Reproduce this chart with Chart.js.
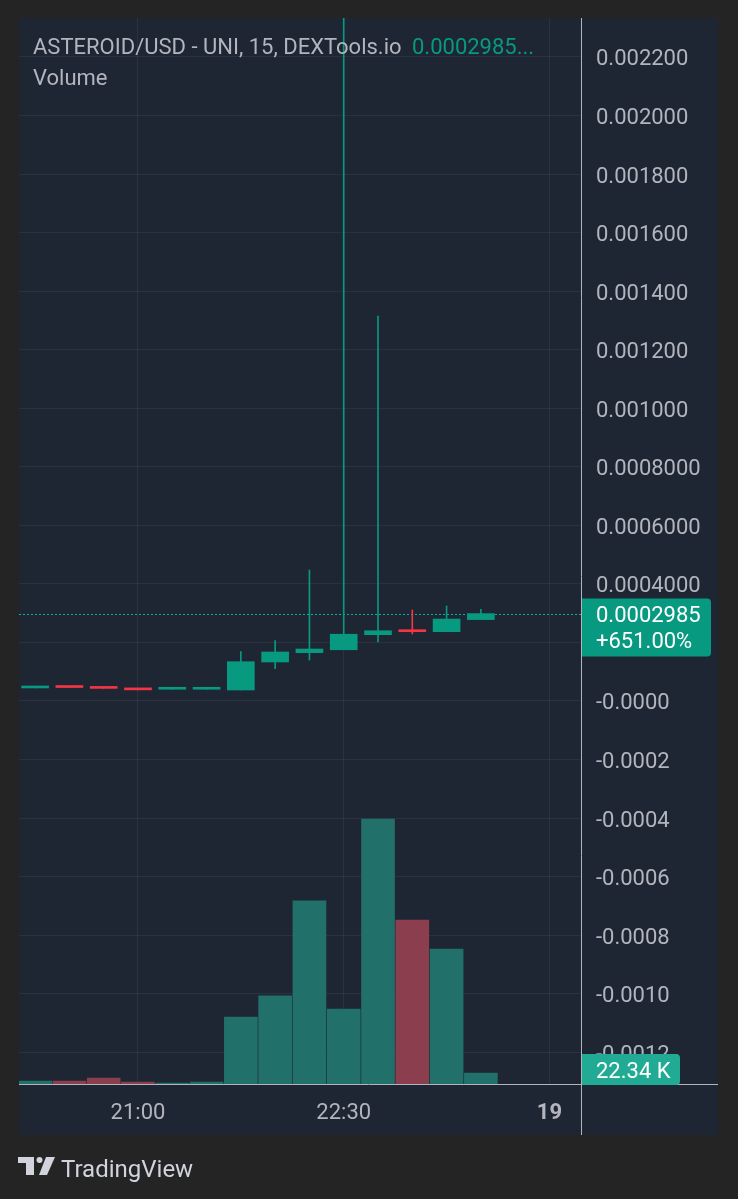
<!DOCTYPE html>
<html>
<head>
<meta charset="utf-8">
<script src="https://cdn.jsdelivr.net/npm/chart.js@4.4.1/dist/chart.umd.min.js"></script>
<style>
  html, body { margin: 0; padding: 0; background: #242424; }
  #wrap { width: 738px; height: 1199px; position: relative; }
</style>
</head>
<body>
<div id="wrap"><canvas id="chart"></canvas></div>
<script>
// 15 minute candles, ASTEROID/USD
var times   = ['20:15','20:30','20:45','21:00','21:15','21:30','21:45','22:00','22:15','22:30','22:45','23:00','23:15','23:30'];
var opens   = [0.0000445, 0.0000475, 0.0000445, 0.0000400, 0.0000400, 0.0000400, 0.0000376, 0.0001332, 0.0001650, 0.0001750, 0.0002265, 0.0002436, 0.0002367, 0.0002780];
var closes  = [0.0000460, 0.0000460, 0.0000430, 0.0000380, 0.0000415, 0.0000415, 0.0001343, 0.0001674, 0.0001776, 0.0002280, 0.0002400, 0.0002367, 0.0002800, 0.0002985];
var highs   = [0.0000460, 0.0000475, 0.0000445, 0.0000400, 0.0000415, 0.0000415, 0.0001684, 0.0002060, 0.0004475, 0.0025000, 0.0013150, 0.0003110, 0.0003245, 0.0003130];
var lows    = [0.0000445, 0.0000460, 0.0000430, 0.0000380, 0.0000400, 0.0000400, 0.0000376, 0.0001100, 0.0001400, 0.0001750, 0.0002015, 0.0002290, 0.0002367, 0.0002780];
var volumes = [6000, 6000, 12000, 4000, 2000, 4000, 136000, 179000, 372000, 152000, 538000, 333000, 274000, 22340];

// axis ticks
var priceTicks = [-0.0012, -0.0010, -0.0008, -0.0006, -0.0004, -0.0002, 0, 0.0002, 0.0004, 0.0006, 0.0008, 0.0010, 0.0012, 0.0014, 0.0016, 0.0018, 0.0020, 0.0022];
var priceTickText = ['-0.0012','-0.0010','-0.0008','-0.0006','-0.0004','-0.0002','-0.0000','','0.0004000','0.0006000','0.0008000','0.001000','0.001200','0.001400','0.001600','0.001800','0.002000','0.002200'];
var timeTickIdx = [3, 9, 15];
var timeTickText = ['21:00', '22:30', '19'];

var lastPrice = 0.0002985;
var lastChange = '+651.00%';
var lastVolume = '22.34 K';

var UP = '#089981', DOWN = '#f23645';
var VOL_UP = '#22706a', VOL_DOWN = '#8b3e4e';
var TEXT = '#b2b5be';
var GRID = 'rgba(255,255,255,0.06)';

Chart.defaults.font.family = 'Roboto';

var isUp = opens.map(function (o, i) { return closes[i] >= o; });

var chrome = {
  id: 'chrome',
  beforeDraw: function (chart) {
    var ctx = chart.ctx;
    ctx.save();
    ctx.fillStyle = '#1e2633';
    ctx.fillRect(19, 18, 699, 1117);
    ctx.restore();
  },
  beforeDatasetsDraw: function (chart) {
    var ctx = chart.ctx, a = chart.chartArea;
    var y = Math.round(chart.scales.y.getPixelForValue(lastPrice)) + 0.5;
    ctx.save();
    ctx.strokeStyle = '#0bb096';
    ctx.lineWidth = 1;
    ctx.setLineDash([2, 2]);
    ctx.beginPath();
    ctx.moveTo(a.left, y);
    ctx.lineTo(a.right, y);
    ctx.stroke();
    ctx.restore();
  },
  afterDraw: function (chart) {
    var ctx = chart.ctx, a = chart.chartArea;
    ctx.save();
    // separators
    ctx.strokeStyle = '#b2b5be';
    ctx.lineWidth = 1;
    ctx.beginPath();
    ctx.moveTo(a.right + 0.5, 18);
    ctx.lineTo(a.right + 0.5, 1135);
    ctx.moveTo(19, a.bottom + 0.5);
    ctx.lineTo(718, a.bottom + 0.5);
    ctx.stroke();

    // last price label
    var py = chart.scales.y.getPixelForValue(lastPrice);
    ctx.fillStyle = UP;
    ctx.beginPath();
    ctx.roundRect(a.right + 1, py - 15, 129, 58, [0, 4, 4, 0]);
    ctx.fill();
    ctx.fillStyle = '#ffffff';
    ctx.font = '22px Roboto';
    ctx.textBaseline = 'middle';
    ctx.textAlign = 'left';
    ctx.fillText(lastPrice.toFixed(7), 596, py + 3);
    ctx.fillText(lastChange, 596, py + 29);

    // last volume label
    var vy = chart.scales.yVol.getPixelForValue(volumes[volumes.length - 1]);
    ctx.fillStyle = '#22ab94';
    ctx.beginPath();
    ctx.roundRect(a.right + 1, vy - 19, 98, 31, [0, 4, 4, 0]);
    ctx.fill();
    ctx.fillStyle = '#ffffff';
    ctx.fillText(lastVolume, 596, vy - 1);

    // legend text
    ctx.font = '22px Roboto';
    ctx.textBaseline = 'alphabetic';
    ctx.fillStyle = TEXT;
    var title = 'ASTEROID/USD - UNI, 15, DEXTools.io';
    ctx.fillText(title, 33, 54);
    ctx.fillStyle = UP;
    ctx.fillText(lastPrice.toFixed(7) + '...', 412, 54);
    ctx.fillStyle = TEXT;
    ctx.fillText('Volume', 33, 85);

    // TradingView logo
    ctx.fillStyle = '#d1d4dc';
    ctx.fillRect(18, 1157, 16, 6);
    ctx.fillRect(26, 1157, 8, 18);
    ctx.beginPath();
    ctx.arc(39.5, 1160, 3, 0, Math.PI * 2);
    ctx.fill();
    ctx.beginPath();
    ctx.moveTo(46, 1157);
    ctx.lineTo(55, 1157);
    ctx.lineTo(47, 1175);
    ctx.lineTo(39, 1175);
    ctx.closePath();
    ctx.fill();
    ctx.font = '24px Roboto';
    ctx.fillText('TradingView', 61, 1177);
    ctx.restore();
  }
};

new Chart(document.getElementById('chart'), {
  type: 'bar',
  data: {
    datasets: [
      {
        label: 'Candle body',
        data: opens.map(function (o, i) { return { x: i, y: [o, closes[i]] }; }),
        backgroundColor: isUp.map(function (u) { return u ? UP : DOWN; }),
        barThickness: 27,
        minBarLength: 2,
        grouped: false,
        order: 0
      },
      {
        label: 'Wick',
        data: lows.map(function (l, i) { return { x: i, y: [l, highs[i]] }; }),
        backgroundColor: isUp.map(function (u) { return u ? UP : DOWN; }),
        barThickness: 1,
        grouped: false,
        order: 1
      },
      {
        label: 'Volume',
        data: volumes.map(function (v, i) { return { x: i, y: v }; }),
        backgroundColor: isUp.map(function (u) { return u ? VOL_UP : VOL_DOWN; }),
        yAxisID: 'yVol',
        barThickness: 33,
        grouped: false,
        order: 2
      }
    ]
  },
  options: {
    responsive: true,
    maintainAspectRatio: false,
    animation: false,
    layout: { padding: { left: 19, top: 18, right: 20, bottom: 64 } },
    plugins: { legend: { display: false }, tooltip: { enabled: false } },
    scales: {
      x: {
        type: 'linear',
        position: 'bottom',
        min: -0.47,
        max: 15.92,
        offset: false,
        grid: { color: GRID, drawTicks: false, offset: false },
        border: { display: false },
        afterBuildTicks: function (s) { s.ticks = timeTickIdx.map(function (v) { return { value: v }; }); },
        afterFit: function (s) { s.height = 51; s.paddingLeft = 0; s.paddingRight = 0; },
        ticks: {
          color: TEXT,
          padding: 16,
          autoSkip: false,
          maxRotation: 0,
          font: function (c) { return { size: 22, weight: (c.tick && c.tick.value === 15) ? 'bold' : 'normal' }; },
          callback: function (v, i) { return timeTickText[i]; }
        }
      },
      y: {
        position: 'right',
        min: -0.0013084,
        max: 0.0023332,
        grid: { color: GRID, drawTicks: false },
        border: { display: false },
        afterBuildTicks: function (s) { s.ticks = priceTicks.map(function (v) { return { value: v }; }); },
        afterFit: function (s) { s.width = 137; s.paddingTop = 0; s.paddingBottom = 0; },
        ticks: {
          color: TEXT,
          padding: 15,
          labelOffset: 3,
          autoSkip: false,
          font: { size: 22 },
          callback: function (v, i) { return priceTickText[i]; }
        }
      },
      yVol: {
        display: false,
        position: 'left',
        min: 0,
        max: 2165000
      }
    }
  },
  plugins: [chrome]
});
</script>
</body>
</html>
